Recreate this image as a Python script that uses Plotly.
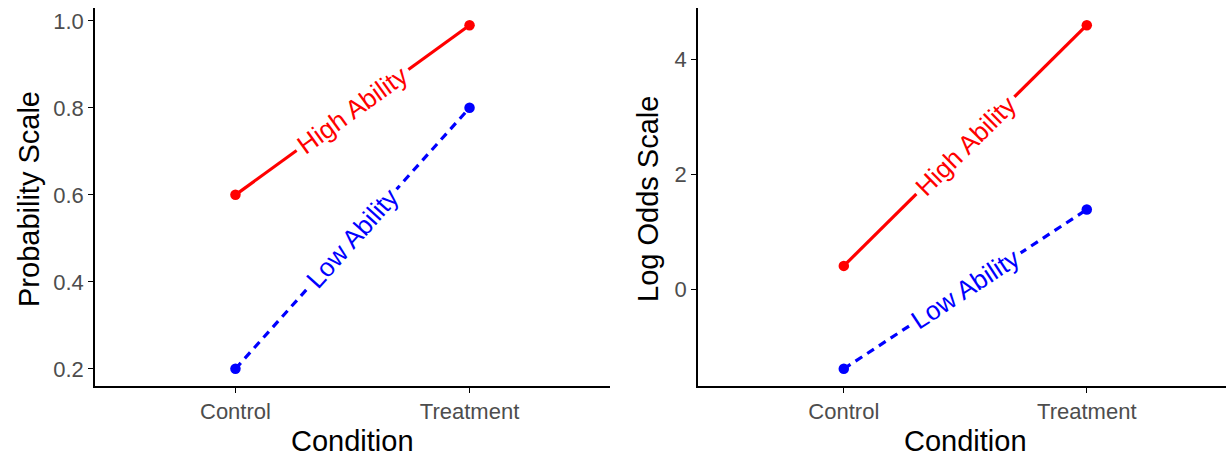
import math
import plotly.graph_objects as go

W, H = 1226, 457

conditions = ["Control", "Treatment"]
high_prob = [0.60, 0.99]
low_prob = [0.20, 0.80]
high_logodds = [math.log(p / (1 - p)) for p in high_prob]
low_logodds = [math.log(p / (1 - p)) for p in low_prob]
group_labels = ["High Ability", "Low Ability"]
prob_ticks = [0.2, 0.4, 0.6, 0.8, 1.0]
logodds_ticks = [0, 2, 4]

RED = "#FF0000"
BLUE = "#0000FF"
FONT = "Liberation Sans, Arial, sans-serif"

# layout in pixels
top_px, bot_px = 8, 386
left_dom = (95, 610)
right_dom = (698, 1226)
ydom = (1 - bot_px / H, 1 - top_px / H)


def expand(vals, f=0.05):
    lo, hi = min(vals), max(vals)
    d = (hi - lo) * f
    return [lo - d, hi + d]


left_yr = expand(high_prob + low_prob)
right_yr = expand(high_logodds + low_logodds)
left_xr = [0.4, 2.6]
right_xr = [0.4, 0.4 + (right_dom[1] - right_dom[0]) / (243.0)]

fig = go.Figure()

xpos = [1, 2]


def add_series(xa, ya, yv, color, dash):
    fig.add_trace(go.Scatter(
        x=xpos, y=yv, xaxis=xa, yaxis=ya, mode="lines+markers",
        line=dict(color=color, width=3.2, dash=dash),
        marker=dict(color=color, size=10.5),
        showlegend=False, hoverinfo="skip"))


add_series("x", "y", high_prob, RED, "solid")
add_series("x", "y", low_prob, BLUE, "8px,6px")
add_series("x2", "y2", high_logodds, RED, "solid")
add_series("x2", "y2", low_logodds, BLUE, "8px,6px")


def angle(yv, xr, yr, dom):
    pw = dom[1] - dom[0]
    ph = bot_px - top_px
    dx = (xpos[1] - xpos[0]) / (xr[1] - xr[0]) * pw
    dy = (yv[1] - yv[0]) / (yr[1] - yr[0]) * ph
    return -math.degrees(math.atan2(dy, dx))


annotations = []


def add_label(xref, yref, yv, text, color, xr, yr, dom):
    annotations.append(dict(
        x=1.5, y=(yv[0] + yv[1]) / 2, xref=xref, yref=yref,
        text=text, showarrow=False, textangle=angle(yv, xr, yr, dom),
        font=dict(family=FONT, size=26, color=color),
        bgcolor="white", borderpad=4, xanchor="center", yanchor="middle"))


add_label("x", "y", high_prob, group_labels[0], RED, left_xr, left_yr, left_dom)
add_label("x", "y", low_prob, group_labels[1], BLUE, left_xr, left_yr, left_dom)
add_label("x2", "y2", high_logodds, group_labels[0], RED, right_xr, right_yr, right_dom)
add_label("x2", "y2", low_logodds, group_labels[1], BLUE, right_xr, right_yr, right_dom)

title_font = dict(family=FONT, size=29, color="black")
annotations += [
    dict(text="Condition", x=(left_dom[0] + left_dom[1]) / 2 / W, y=1 - 441 / H,
         xref="paper", yref="paper", showarrow=False, font=title_font,
         xanchor="center", yanchor="middle"),
    dict(text="Condition", x=965 / W, y=1 - 441 / H,
         xref="paper", yref="paper", showarrow=False, font=title_font,
         xanchor="center", yanchor="middle"),
    dict(text="Probability Scale", x=29 / W, y=1 - 199 / H,
         xref="paper", yref="paper", showarrow=False, font=title_font,
         textangle=-90, xanchor="center", yanchor="middle"),
    dict(text="Log Odds Scale", x=648 / W, y=1 - 199 / H,
         xref="paper", yref="paper", showarrow=False, font=title_font,
         textangle=-90, xanchor="center", yanchor="middle"),
]

tick_font = dict(family=FONT, size=22, color="#4D4D4D")
axis_common = dict(showline=True, linecolor="black", linewidth=1.5,
                   ticks="outside", ticklen=5, tickwidth=1.3, tickcolor="black",
                   showgrid=False, zeroline=False, tickfont=tick_font)

fig.update_layout(
    width=W, height=H,
    margin=dict(l=0, r=0, t=0, b=0),
    paper_bgcolor="white", plot_bgcolor="white",
    xaxis=dict(domain=[left_dom[0] / W, left_dom[1] / W], range=left_xr,
               tickvals=xpos, ticktext=conditions, anchor="y", **axis_common),
    yaxis=dict(domain=list(ydom), range=left_yr, tickvals=prob_ticks,
               ticktext=[f"{v:.1f}" for v in prob_ticks], anchor="x", **axis_common),
    xaxis2=dict(domain=[right_dom[0] / W, right_dom[1] / W], range=right_xr,
                tickvals=xpos, ticktext=conditions, anchor="y2", **axis_common),
    yaxis2=dict(domain=list(ydom), range=right_yr, tickvals=logodds_ticks,
                anchor="x2", **axis_common),
    annotations=annotations,
)

fig.write_html("out.html", config={"displayModeBar": False},
               post_script="document.body.style.margin='0';document.body.style.overflow='hidden';")
